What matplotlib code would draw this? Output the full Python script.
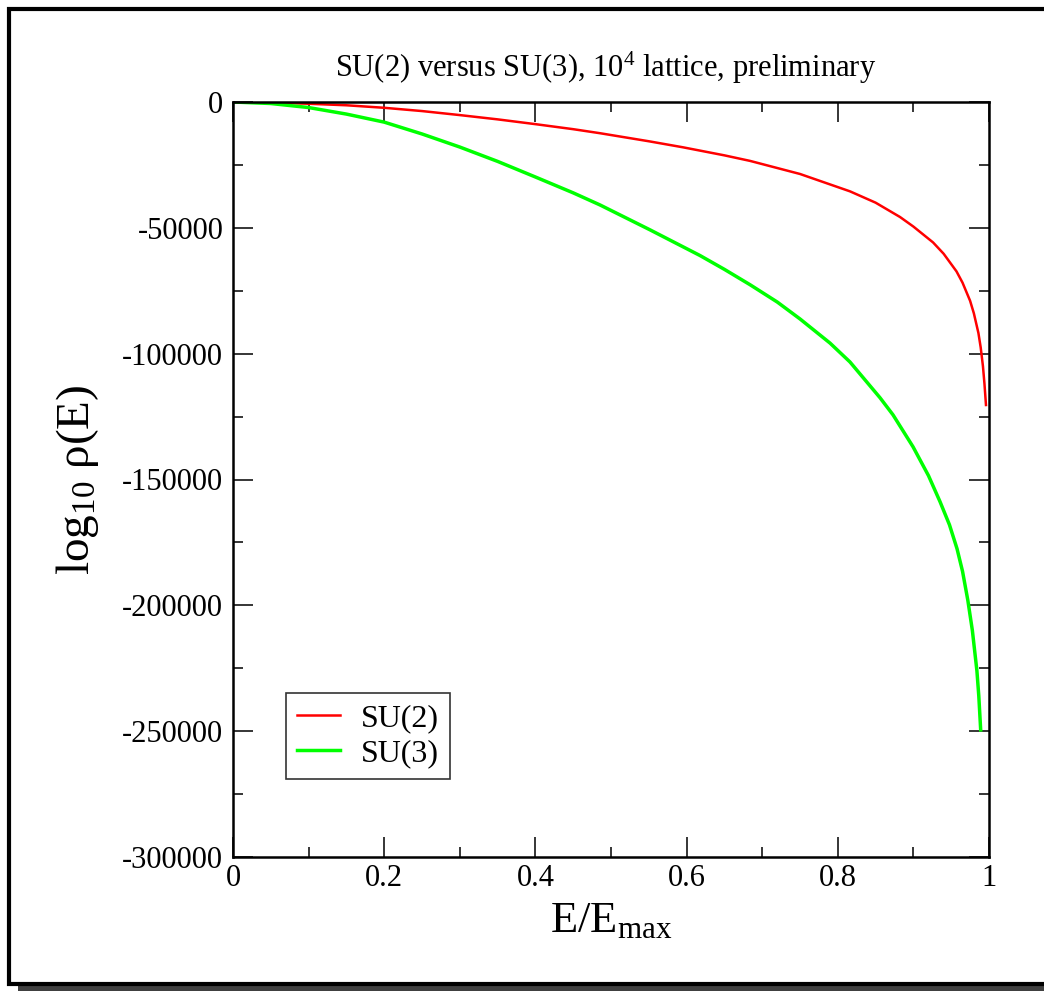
import matplotlib
matplotlib.use("Agg")
import matplotlib.pyplot as plt
from matplotlib.patches import Rectangle
from matplotlib.ticker import MultipleLocator

plt.rcParams['font.family'] = ['Liberation Serif', 'DejaVu Serif']
plt.rcParams['mathtext.fontset'] = 'custom'
plt.rcParams['mathtext.rm'] = 'Liberation Serif'
plt.rcParams['mathtext.it'] = 'Liberation Serif:italic'

# SU(2)
su2_x = [0, 0.05, 0.1, 0.15, 0.2, 0.25, 0.3, 0.35, 0.4, 0.45, 0.4854, 0.55, 0.5952,
         0.65, 0.6839, 0.75, 0.8161, 0.85, 0.8823, 0.9, 0.926, 0.94, 0.957, 0.965,
         0.975, 0.98, 0.986, 0.989, 0.992, 0.994, 0.996]
su2_y = [0, -200, -700, -1300, -2300, -3600, -5200, -6900, -8800, -10800, -12400, -15600, -18000,
         -21200, -23400, -28600, -35500, -40000, -45700, -49500, -55800, -60300, -67300, -71800,
         -79000, -84000, -91800, -97500, -105000, -112000, -120400]

# SU(3)
su3_x = [0, 0.05, 0.1, 0.15, 0.2, 0.25, 0.3, 0.35, 0.4, 0.45, 0.4854, 0.5516, 0.6177,
         0.65, 0.6839, 0.72, 0.75, 0.7897, 0.8161, 0.8558, 0.873, 0.8995, 0.92, 0.9352,
         0.9477, 0.9577, 0.965, 0.972, 0.978, 0.984, 0.9865, 0.989]
su3_y = [0, -600, -2200, -4800, -8000, -12700, -17900, -23600, -29800, -36100, -40900, -50800, -61000,
         -66500, -72600, -79500, -86200, -95800, -103300, -117500, -124300, -137000, -148500, -158800,
         -168000, -177500, -186500, -198000, -210000, -226000, -236000, -249500]

labels = ["SU(2)", "SU(3)"]
colors = ["#ff0000", "#00ff00"]

W, H = 1044, 992
fig = plt.figure(figsize=(W / 100, H / 100), dpi=100)

# outer frame with shadow
fig.patches.append(Rectangle((18 / W, 1 - 991 / H), 1.2, 5 / H, transform=fig.transFigure,
                             facecolor="#404040", edgecolor="none", zorder=0))
fig.patches.append(Rectangle((9 / W, 1 - 984 / H), 1.2, 975 / H, transform=fig.transFigure,
                             facecolor="white", edgecolor="black", linewidth=3.0, zorder=1))

ax = fig.add_axes([233 / W, 1 - 857 / H, (989 - 233) / W, (857 - 102) / H])
ax.set_zorder(2)
ax.plot(su2_x, su2_y, color=colors[0], lw=1.8, label=labels[0])
ax.plot(su3_x, su3_y, color=colors[1], lw=2.5, label=labels[1])

ax.set_xlim(0, 1)
ax.set_ylim(-300000, 0)
ax.xaxis.set_minor_locator(MultipleLocator(0.1))
ax.yaxis.set_minor_locator(MultipleLocator(25000))
ax.set_xticks([0, 0.2, 0.4, 0.6, 0.8, 1.0])
ax.set_xticklabels(["0", "0.2", "0.4", "0.6", "0.8", "1"])
ax.set_yticks([0, -50000, -100000, -150000, -200000, -250000, -300000])
ax.set_yticklabels(["0", "-50000", "-100000", "-150000", "-200000", "-250000", "-300000"])

ax.tick_params(which='both', direction='in', top=True, right=True, width=1.1, labelsize=22)
ax.tick_params(which='major', length=14.5)
ax.tick_params(which='minor', length=7.2)
ax.tick_params(axis='y', pad=7)
ax.tick_params(axis='x', pad=5)
for s in ax.spines.values():
    s.set_linewidth(1.8)

ax.set_xlabel(r"E/E$_{\mathrm{max}}$", fontsize=32, labelpad=6)
ax.set_ylabel(r"log$_{\mathrm{10}}$ ρ(E)", fontsize=34, labelpad=15)

fig.text(606 / W, 1 - 68 / H, r"SU(2) versus SU(3), 10$^{4}$ lattice, preliminary",
         ha="center", va="center", fontsize=22)

leg = ax.legend(loc="lower left", bbox_to_anchor=((286 - 233) / 756, (857 - 779) / 755),
                fontsize=23, frameon=True, fancybox=False, handlelength=1.35,
                handletextpad=0.65, borderpad=0.35, labelspacing=0.15, borderaxespad=0)
leg.get_frame().set_edgecolor("black")
leg.get_frame().set_linewidth(1.2)

fig.savefig("out.png", dpi=100)
